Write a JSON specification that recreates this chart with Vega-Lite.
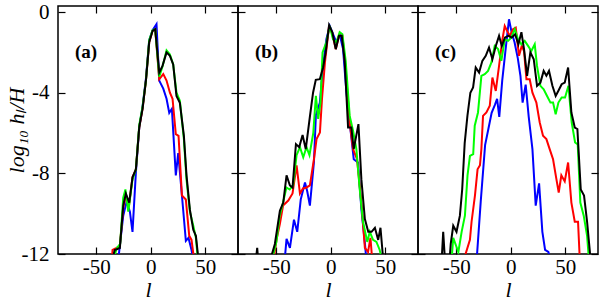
{
"$schema": "https://vega.github.io/schema/vega-lite/v6.json",
"padding": {"left": 4, "top": 0, "right": 4, "bottom": 0},
"config": {
 "view": {"stroke": "black", "strokeWidth": 1.5},
 "font": "Liberation Serif",
 "style": {"guide-label": {"font": "Liberation Serif", "fontSize": 21, "fill": "black"}, "guide-title": {"font": "Liberation Serif", "fontSize": 22, "fontStyle": "italic", "fontWeight": "normal", "fill": "black"}},
 "axis": {"domain": false, "grid": false, "ticks": true, "tickColor": "black", "tickSize": -7, "tickWidth": 1.2, "minExtent": 0, "labelFont": "Liberation Serif", "labelFontSize": 21, "labelColor": "black", "titleFont": "Liberation Serif", "titleFontSize": 22, "titleFontStyle": "italic", "titleFontWeight": "normal", "titleColor": "black"}
},
"datasets": {
"curves": [
{"p":"a","s":"b","l":-29.8,"h":-12.3},{"p":"a","s":"b","l":-25.2,"h":-10.1},{"p":"a","s":"b","l":-22.1,"h":-9.4},{"p":"a","s":"b","l":-19.1,"h":-9.9},{"p":"a","s":"b","l":-16.7,"h":-10.9},{"p":"a","s":"b","l":-13.6,"h":-7.95},{"p":"a","s":"b","l":-10.5,"h":-5.7},{"p":"a","s":"b","l":-7.5,"h":-4.7},{"p":"a","s":"b","l":-4.4,"h":-3.3},{"p":"a","s":"b","l":-1.4,"h":-1.4},{"p":"a","s":"b","l":1.7,"h":-0.9},{"p":"a","s":"b","l":5.3,"h":-0.6},{"p":"a","s":"b","l":7.8,"h":-3.4},{"p":"a","s":"b","l":11.5,"h":-3.8},{"p":"a","s":"b","l":14.5,"h":-4.3},{"p":"a","s":"b","l":17,"h":-5.0},{"p":"a","s":"b","l":19.4,"h":-4.8},{"p":"a","s":"b","l":23,"h":-8.1},{"p":"a","s":"b","l":25.2,"h":-7.0},{"p":"a","s":"b","l":28.6,"h":-9.1},{"p":"a","s":"b","l":32.2,"h":-11.35},{"p":"a","s":"b","l":34.6,"h":-11.2},{"p":"a","s":"b","l":37.4,"h":-11.8},{"p":"a","s":"b","l":39,"h":-12.3},
{"p":"a","s":"r","l":-35.5,"h":-12.2},{"p":"a","s":"r","l":-35,"h":-11.8},{"p":"a","s":"r","l":-31.3,"h":-11.7},{"p":"a","s":"r","l":-28.3,"h":-11.6},{"p":"a","s":"r","l":-25.2,"h":-9.7},{"p":"a","s":"r","l":-22.8,"h":-9.1},{"p":"a","s":"r","l":-19.7,"h":-9.5},{"p":"a","s":"r","l":-16.7,"h":-8.2},{"p":"a","s":"r","l":-13.6,"h":-7.8},{"p":"a","s":"r","l":-10.5,"h":-5.7},{"p":"a","s":"r","l":-7.5,"h":-4.8},{"p":"a","s":"r","l":-4.4,"h":-3.4},{"p":"a","s":"r","l":-1.4,"h":-1.5},{"p":"a","s":"r","l":1.7,"h":-0.93},{"p":"a","s":"r","l":4.1,"h":-0.85},{"p":"a","s":"r","l":7.8,"h":-3.33},{"p":"a","s":"r","l":11.5,"h":-3.08},{"p":"a","s":"r","l":14.5,"h":-3.4},{"p":"a","s":"r","l":17.6,"h":-4.0},{"p":"a","s":"r","l":20,"h":-4.3},{"p":"a","s":"r","l":23,"h":-6.06},{"p":"a","s":"r","l":25.5,"h":-6.14},{"p":"a","s":"r","l":28.6,"h":-9.1},{"p":"a","s":"r","l":32.2,"h":-9.3},{"p":"a","s":"r","l":35.3,"h":-11.1},{"p":"a","s":"r","l":37.4,"h":-11.3},{"p":"a","s":"r","l":39.8,"h":-12.3},
{"p":"a","s":"g","l":-34.5,"h":-12.3},{"p":"a","s":"g","l":-31,"h":-11.7},{"p":"a","s":"g","l":-28,"h":-11.5},{"p":"a","s":"g","l":-25.2,"h":-9.2},{"p":"a","s":"g","l":-23.2,"h":-8.8},{"p":"a","s":"g","l":-20.6,"h":-9.9},{"p":"a","s":"g","l":-16.7,"h":-8.3},{"p":"a","s":"g","l":-13.6,"h":-7.8},{"p":"a","s":"g","l":-10.5,"h":-5.6},{"p":"a","s":"g","l":-7.5,"h":-4.7},{"p":"a","s":"g","l":-4.4,"h":-3.4},{"p":"a","s":"g","l":-1.4,"h":-1.4},{"p":"a","s":"g","l":1.7,"h":-0.9},{"p":"a","s":"g","l":4.1,"h":-0.85},{"p":"a","s":"g","l":7.8,"h":-3.2},{"p":"a","s":"g","l":10.8,"h":-2.7},{"p":"a","s":"g","l":14.5,"h":-1.9},{"p":"a","s":"g","l":17.6,"h":-2.1},{"p":"a","s":"g","l":20.6,"h":-2.6},{"p":"a","s":"g","l":23.6,"h":-4.0},{"p":"a","s":"g","l":26.7,"h":-4.4},{"p":"a","s":"g","l":30.4,"h":-6.3},{"p":"a","s":"g","l":32.8,"h":-8.3},{"p":"a","s":"g","l":35.9,"h":-9.9},{"p":"a","s":"g","l":39,"h":-10.6},{"p":"a","s":"g","l":41.4,"h":-11.2},{"p":"a","s":"g","l":43.3,"h":-12.3},
{"p":"a","s":"k","l":-35.3,"h":-12.3},{"p":"a","s":"k","l":-33,"h":-11.8},{"p":"a","s":"k","l":-28.3,"h":-11.7},{"p":"a","s":"k","l":-25.2,"h":-9.6},{"p":"a","s":"k","l":-22.8,"h":-9.0},{"p":"a","s":"k","l":-19.7,"h":-9.45},{"p":"a","s":"k","l":-16.7,"h":-8.2},{"p":"a","s":"k","l":-13.6,"h":-7.8},{"p":"a","s":"k","l":-10.5,"h":-5.7},{"p":"a","s":"k","l":-7.5,"h":-4.8},{"p":"a","s":"k","l":-4.4,"h":-3.4},{"p":"a","s":"k","l":-1.4,"h":-1.5},{"p":"a","s":"k","l":1.7,"h":-0.93},{"p":"a","s":"k","l":4.1,"h":-0.85},{"p":"a","s":"k","l":7.8,"h":-3.0},{"p":"a","s":"k","l":10.8,"h":-2.67},{"p":"a","s":"k","l":14.5,"h":-2.0},{"p":"a","s":"k","l":17.6,"h":-2.17},{"p":"a","s":"k","l":20.6,"h":-2.6},{"p":"a","s":"k","l":23.6,"h":-4.16},{"p":"a","s":"k","l":26.7,"h":-4.5},{"p":"a","s":"k","l":30.4,"h":-6.14},{"p":"a","s":"k","l":32.8,"h":-8.1},{"p":"a","s":"k","l":35.9,"h":-9.8},{"p":"a","s":"k","l":39,"h":-10.8},{"p":"a","s":"k","l":41.4,"h":-11.1},{"p":"a","s":"k","l":43.8,"h":-12.3},

{"p":"b","s":"b","l":-42.2,"h":-12.3},{"p":"b","s":"b","l":-40.5,"h":-11.25},{"p":"b","s":"b","l":-37.4,"h":-11.7},{"p":"b","s":"b","l":-33.7,"h":-10.3},{"p":"b","s":"b","l":-30.7,"h":-10.9},{"p":"b","s":"b","l":-27.5,"h":-9.3},{"p":"b","s":"b","l":-23.6,"h":-8.45},{"p":"b","s":"b","l":-21.5,"h":-8.9},{"p":"b","s":"b","l":-19.1,"h":-9.6},{"p":"b","s":"b","l":-15.4,"h":-7.45},{"p":"b","s":"b","l":-13.6,"h":-5.1},{"p":"b","s":"b","l":-10,"h":-4.5},{"p":"b","s":"b","l":-7,"h":-2.67},{"p":"b","s":"b","l":-4,"h":-1.35},{"p":"b","s":"b","l":-0.9,"h":-0.69},{"p":"b","s":"b","l":2.1,"h":-1.1},{"p":"b","s":"b","l":5.2,"h":-1.5},{"p":"b","s":"b","l":8.2,"h":-1.1},{"p":"b","s":"b","l":11.3,"h":-1.84},{"p":"b","s":"b","l":14.4,"h":-3.99},{"p":"b","s":"b","l":17.4,"h":-5.48},{"p":"b","s":"b","l":21.1,"h":-7.3},{"p":"b","s":"b","l":25,"h":-7.46},{"p":"b","s":"b","l":28.1,"h":-9.78},{"p":"b","s":"b","l":31.2,"h":-11.4},{"p":"b","s":"b","l":32.7,"h":-12.3},
{"p":"b","s":"r","l":-53,"h":-12.5},{"p":"b","s":"r","l":-49.7,"h":-11.3},{"p":"b","s":"r","l":-46.6,"h":-10.5},{"p":"b","s":"r","l":-43.7,"h":-9.6},{"p":"b","s":"r","l":-38.9,"h":-9.35},{"p":"b","s":"r","l":-35,"h":-9.0},{"p":"b","s":"r","l":-31.3,"h":-7.6},{"p":"b","s":"r","l":-28.2,"h":-9.0},{"p":"b","s":"r","l":-25.4,"h":-8.75},{"p":"b","s":"r","l":-22.2,"h":-8.7},{"p":"b","s":"r","l":-19.1,"h":-8.6},{"p":"b","s":"r","l":-15.4,"h":-7.3},{"p":"b","s":"r","l":-13,"h":-6.3},{"p":"b","s":"r","l":-9.9,"h":-5.97},{"p":"b","s":"r","l":-8,"h":-4.3},{"p":"b","s":"r","l":-5.3,"h":-2.5},{"p":"b","s":"r","l":-1.5,"h":-0.69},{"p":"b","s":"r","l":1.5,"h":-1.1},{"p":"b","s":"r","l":4.6,"h":-1.84},{"p":"b","s":"r","l":7.6,"h":-1.18},{"p":"b","s":"r","l":10.7,"h":-1.18},{"p":"b","s":"r","l":13.7,"h":-2.83},{"p":"b","s":"r","l":17.4,"h":-5.5},{"p":"b","s":"r","l":20.5,"h":-6.8},{"p":"b","s":"r","l":24.1,"h":-7.3},{"p":"b","s":"r","l":28.1,"h":-9.45},{"p":"b","s":"r","l":31.3,"h":-11.7},{"p":"b","s":"r","l":34.2,"h":-11.9},{"p":"b","s":"r","l":36.4,"h":-11.2},{"p":"b","s":"r","l":38.2,"h":-12.4},
{"p":"b","s":"g","l":-55,"h":-12.5},{"p":"b","s":"g","l":-49.8,"h":-11.4},{"p":"b","s":"g","l":-46.8,"h":-10.1},{"p":"b","s":"g","l":-43.7,"h":-9.45},{"p":"b","s":"g","l":-40.6,"h":-8.7},{"p":"b","s":"g","l":-37.6,"h":-8.8},{"p":"b","s":"g","l":-34.5,"h":-8.6},{"p":"b","s":"g","l":-31.3,"h":-7.1},{"p":"b","s":"g","l":-28.2,"h":-6.7},{"p":"b","s":"g","l":-25.2,"h":-7.2},{"p":"b","s":"g","l":-22.2,"h":-6.7},{"p":"b","s":"g","l":-19.5,"h":-7.1},{"p":"b","s":"g","l":-16,"h":-6.0},{"p":"b","s":"g","l":-13.6,"h":-4.15},{"p":"b","s":"g","l":-11.5,"h":-5.3},{"p":"b","s":"g","l":-9.4,"h":-4.5},{"p":"b","s":"g","l":-7.5,"h":-2.0},{"p":"b","s":"g","l":-4,"h":-1.5},{"p":"b","s":"g","l":-0.9,"h":-0.69},{"p":"b","s":"g","l":2.1,"h":-1.35},{"p":"b","s":"g","l":5.2,"h":-1.5},{"p":"b","s":"g","l":8.2,"h":-1.0},{"p":"b","s":"g","l":10.7,"h":-1.1},{"p":"b","s":"g","l":13.7,"h":-2.42},{"p":"b","s":"g","l":17.4,"h":-5.15},{"p":"b","s":"g","l":20.5,"h":-5.9},{"p":"b","s":"g","l":23.5,"h":-6.8},{"p":"b","s":"g","l":26.6,"h":-8.8},{"p":"b","s":"g","l":29.6,"h":-10.4},{"p":"b","s":"g","l":33.5,"h":-11.4},{"p":"b","s":"g","l":35.8,"h":-10.9},{"p":"b","s":"g","l":38.8,"h":-11.3},{"p":"b","s":"g","l":41.9,"h":-11.4},{"p":"b","s":"g","l":44.9,"h":-11.8},{"p":"b","s":"g","l":47.4,"h":-12.4},
{"p":"b","s":"k","l":-70,"h":-13},{"p":"b","s":"k","l":-67.4,"h":-11.7},{"p":"b","s":"k","l":-65.5,"h":-13},{"p":"b","s":"k","l":-57,"h":-12.6},{"p":"b","s":"k","l":-51.2,"h":-11.5},{"p":"b","s":"k","l":-46.6,"h":-9.85},{"p":"b","s":"k","l":-43.5,"h":-9.45},{"p":"b","s":"k","l":-40.5,"h":-8.1},{"p":"b","s":"k","l":-37.4,"h":-8.6},{"p":"b","s":"k","l":-35,"h":-8.7},{"p":"b","s":"k","l":-31.9,"h":-6.55},{"p":"b","s":"k","l":-28.9,"h":-6.7},{"p":"b","s":"k","l":-25.8,"h":-6.1},{"p":"b","s":"k","l":-22.9,"h":-6.8},{"p":"b","s":"k","l":-19.2,"h":-5.23},{"p":"b","s":"k","l":-16.2,"h":-4.0},{"p":"b","s":"k","l":-13.7,"h":-3.36},{"p":"b","s":"k","l":-10,"h":-3.33},{"p":"b","s":"k","l":-7,"h":-2.75},{"p":"b","s":"k","l":-4.6,"h":-2.0},{"p":"b","s":"k","l":-1.5,"h":-0.65},{"p":"b","s":"k","l":1.5,"h":-1.0},{"p":"b","s":"k","l":4.6,"h":-1.84},{"p":"b","s":"k","l":7.6,"h":-1.18},{"p":"b","s":"k","l":10.1,"h":-1.18},{"p":"b","s":"k","l":12.8,"h":-2.42},{"p":"b","s":"k","l":15.9,"h":-5.73},{"p":"b","s":"k","l":18.9,"h":-5.73},{"p":"b","s":"k","l":21.1,"h":-6.8},{"p":"b","s":"k","l":25.4,"h":-5.56},{"p":"b","s":"k","l":28.1,"h":-8.3},{"p":"b","s":"k","l":31.3,"h":-10.27},{"p":"b","s":"k","l":34.4,"h":-10.9},{"p":"b","s":"k","l":37.4,"h":-10.9},{"p":"b","s":"k","l":40.5,"h":-10.7},{"p":"b","s":"k","l":43.5,"h":-11.3},{"p":"b","s":"k","l":45.6,"h":-10.7},{"p":"b","s":"k","l":48.3,"h":-12.4},

{"p":"c","s":"b","l":-31.5,"h":-12.5},{"p":"c","s":"b","l":-27.5,"h":-9.4},{"p":"c","s":"b","l":-23.5,"h":-6.6},{"p":"c","s":"b","l":-20.5,"h":-5.8},{"p":"c","s":"b","l":-17.5,"h":-5.0},{"p":"c","s":"b","l":-14.5,"h":-4.6},{"p":"c","s":"b","l":-12.5,"h":-4.3},{"p":"c","s":"b","l":-10.5,"h":-5.2},{"p":"c","s":"b","l":-7.8,"h":-3.4},{"p":"c","s":"b","l":-5,"h":-2.0},{"p":"c","s":"b","l":-1.6,"h":-0.36},{"p":"c","s":"b","l":0.8,"h":-1.0},{"p":"c","s":"b","l":3.5,"h":-1.5},{"p":"c","s":"b","l":6.5,"h":-2.3},{"p":"c","s":"b","l":8.9,"h":-3.16},{"p":"c","s":"b","l":10.9,"h":-4.49},{"p":"c","s":"b","l":13.7,"h":-3.6},{"p":"c","s":"b","l":16.5,"h":-5.2},{"p":"c","s":"b","l":19.9,"h":-6.8},{"p":"c","s":"b","l":22.9,"h":-9.6},{"p":"c","s":"b","l":26,"h":-8.5},{"p":"c","s":"b","l":29,"h":-10.9},{"p":"c","s":"b","l":31.5,"h":-11.8},{"p":"c","s":"b","l":34.5,"h":-11.9},{"p":"c","s":"b","l":37.6,"h":-12.5},
{"p":"c","s":"r","l":-43,"h":-12.5},{"p":"c","s":"r","l":-41.4,"h":-12},{"p":"c","s":"r","l":-37.4,"h":-11.3},{"p":"c","s":"r","l":-35.9,"h":-10.4},{"p":"c","s":"r","l":-32.8,"h":-9.1},{"p":"c","s":"r","l":-30.4,"h":-7.8},{"p":"c","s":"r","l":-28.2,"h":-7.6},{"p":"c","s":"r","l":-26.9,"h":-6.8},{"p":"c","s":"r","l":-25.4,"h":-5.15},{"p":"c","s":"r","l":-22.3,"h":-4.98},{"p":"c","s":"r","l":-19.2,"h":-4.65},{"p":"c","s":"r","l":-16.8,"h":-3.25},{"p":"c","s":"r","l":-13.7,"h":-3.91},{"p":"c","s":"r","l":-10.7,"h":-2.67},{"p":"c","s":"r","l":-7.6,"h":-1.35},{"p":"c","s":"r","l":-5.5,"h":-0.69},{"p":"c","s":"r","l":-3.4,"h":-0.93},{"p":"c","s":"r","l":-0.9,"h":-1.18},{"p":"c","s":"r","l":2.1,"h":-0.85},{"p":"c","s":"r","l":4.6,"h":-0.77},{"p":"c","s":"r","l":7.6,"h":-2.17},{"p":"c","s":"r","l":10.1,"h":-1.68},{"p":"c","s":"r","l":12.2,"h":-1.93},{"p":"c","s":"r","l":14.4,"h":-3.33},{"p":"c","s":"r","l":17.4,"h":-3.33},{"p":"c","s":"r","l":19.9,"h":-4.0},{"p":"c","s":"r","l":23.5,"h":-4.49},{"p":"c","s":"r","l":26.6,"h":-5.48},{"p":"c","s":"r","l":29.6,"h":-6.14},{"p":"c","s":"r","l":32.7,"h":-6.3},{"p":"c","s":"r","l":35.7,"h":-6.8},{"p":"c","s":"r","l":38.8,"h":-7.3},{"p":"c","s":"r","l":41.9,"h":-8.3},{"p":"c","s":"r","l":44,"h":-8.95},{"p":"c","s":"r","l":46.4,"h":-8.1},{"p":"c","s":"r","l":49.5,"h":-8.4},{"p":"c","s":"r","l":52.6,"h":-7.46},{"p":"c","s":"r","l":55.6,"h":-9.45},{"p":"c","s":"r","l":58.7,"h":-10.4},{"p":"c","s":"r","l":61.7,"h":-10.4},{"p":"c","s":"r","l":63.5,"h":-12.5},
{"p":"c","s":"g","l":-54.5,"h":-12.5},{"p":"c","s":"g","l":-52.7,"h":-11.2},{"p":"c","s":"g","l":-48,"h":-11.9},{"p":"c","s":"g","l":-45,"h":-10.9},{"p":"c","s":"g","l":-42,"h":-10.1},{"p":"c","s":"g","l":-39.6,"h":-8.1},{"p":"c","s":"g","l":-37.4,"h":-7.13},{"p":"c","s":"g","l":-34.4,"h":-7.05},{"p":"c","s":"g","l":-33,"h":-5.64},{"p":"c","s":"g","l":-30,"h":-4.98},{"p":"c","s":"g","l":-26.9,"h":-3.17},{"p":"c","s":"g","l":-23.8,"h":-3.08},{"p":"c","s":"g","l":-20.8,"h":-2.92},{"p":"c","s":"g","l":-17.7,"h":-2.5},{"p":"c","s":"g","l":-14.7,"h":-1.68},{"p":"c","s":"g","l":-11.6,"h":-1.84},{"p":"c","s":"g","l":-8.6,"h":-2.42},{"p":"c","s":"g","l":-5.5,"h":-1.35},{"p":"c","s":"g","l":-2.4,"h":-1.43},{"p":"c","s":"g","l":0.6,"h":-1.26},{"p":"c","s":"g","l":3.7,"h":-0.85},{"p":"c","s":"g","l":6.7,"h":-1.35},{"p":"c","s":"g","l":9.8,"h":-1.6},{"p":"c","s":"g","l":12.8,"h":-1.43},{"p":"c","s":"g","l":15.9,"h":-1.68},{"p":"c","s":"g","l":18.9,"h":-1.93},{"p":"c","s":"g","l":22,"h":-1.6},{"p":"c","s":"g","l":24.1,"h":-2.67},{"p":"c","s":"g","l":27.2,"h":-3.66},{"p":"c","s":"g","l":30.2,"h":-3.83},{"p":"c","s":"g","l":33.3,"h":-4.16},{"p":"c","s":"g","l":36.4,"h":-4.49},{"p":"c","s":"g","l":38.8,"h":-4.49},{"p":"c","s":"g","l":41.2,"h":-5.07},{"p":"c","s":"g","l":43.7,"h":-4.49},{"p":"c","s":"g","l":46.7,"h":-4.24},{"p":"c","s":"g","l":49.8,"h":-4.24},{"p":"c","s":"g","l":52.9,"h":-3.66},{"p":"c","s":"g","l":55.9,"h":-5.48},{"p":"c","s":"g","l":59,"h":-6.47},{"p":"c","s":"g","l":61.4,"h":-6.56},{"p":"c","s":"g","l":63.8,"h":-9.45},{"p":"c","s":"g","l":66.9,"h":-10.1},{"p":"c","s":"g","l":70,"h":-11.1},{"p":"c","s":"g","l":72,"h":-12.5},
{"p":"c","s":"k","l":-64,"h":-13},{"p":"c","s":"k","l":-61.9,"h":-10.9},{"p":"c","s":"k","l":-59.5,"h":-13},{"p":"c","s":"k","l":-57,"h":-13},{"p":"c","s":"k","l":-55,"h":-11.5},{"p":"c","s":"k","l":-52.7,"h":-10.6},{"p":"c","s":"k","l":-49.7,"h":-10.9},{"p":"c","s":"k","l":-46.6,"h":-10.1},{"p":"c","s":"k","l":-44.5,"h":-8.8},{"p":"c","s":"k","l":-42.2,"h":-6.5},{"p":"c","s":"k","l":-39.7,"h":-5.15},{"p":"c","s":"k","l":-37,"h":-4.0},{"p":"c","s":"k","l":-34.5,"h":-3.74},{"p":"c","s":"k","l":-32.1,"h":-2.75},{"p":"c","s":"k","l":-29,"h":-3.0},{"p":"c","s":"k","l":-26,"h":-2.42},{"p":"c","s":"k","l":-22.9,"h":-2.17},{"p":"c","s":"k","l":-19.9,"h":-1.76},{"p":"c","s":"k","l":-16.8,"h":-2.34},{"p":"c","s":"k","l":-13.7,"h":-1.68},{"p":"c","s":"k","l":-10.7,"h":-1.18},{"p":"c","s":"k","l":-8.2,"h":-1.68},{"p":"c","s":"k","l":-5.2,"h":-1.26},{"p":"c","s":"k","l":-2.1,"h":-1.18},{"p":"c","s":"k","l":0.9,"h":-1.26},{"p":"c","s":"k","l":4,"h":-1.1},{"p":"c","s":"k","l":7,"h":-1.6},{"p":"c","s":"k","l":9.8,"h":-1.0},{"p":"c","s":"k","l":12.2,"h":-1.84},{"p":"c","s":"k","l":15,"h":-3.16},{"p":"c","s":"k","l":18,"h":-2.0},{"p":"c","s":"k","l":21.1,"h":-2.34},{"p":"c","s":"k","l":24.1,"h":-3.66},{"p":"c","s":"k","l":27.2,"h":-3.5},{"p":"c","s":"k","l":30.2,"h":-2.92},{"p":"c","s":"k","l":32.7,"h":-3.16},{"p":"c","s":"k","l":35.1,"h":-2.92},{"p":"c","s":"k","l":38.2,"h":-3.66},{"p":"c","s":"k","l":41.2,"h":-4.16},{"p":"c","s":"k","l":43.7,"h":-3.9},{"p":"c","s":"k","l":46.7,"h":-3.58},{"p":"c","s":"k","l":49.5,"h":-3.5},{"p":"c","s":"k","l":52.6,"h":-2.75},{"p":"c","s":"k","l":55.6,"h":-4.98},{"p":"c","s":"k","l":58.7,"h":-5.73},{"p":"c","s":"k","l":61.1,"h":-5.8},{"p":"c","s":"k","l":64.2,"h":-8.8},{"p":"c","s":"k","l":67.2,"h":-9.1},{"p":"c","s":"k","l":70,"h":-10.4},{"p":"c","s":"k","l":72.4,"h":-11.8},{"p":"c","s":"k","l":73.5,"h":-12.5}
],
"labels": [
{"p":"a","l":-69.5,"h":-2.0,"t":"(a)"},{"p":"b","l":-69.5,"h":-2.0,"t":"(b)"},{"p":"c","l":-69.5,"h":-2.0,"t":"(c)"}
]
},
"spacing": 0,
"bounds": "flush",
"hconcat": [
{
 "width": 180, "height": 248,
 "layer": [
  {"data": {"name": "curves"}, "transform": [{"filter": "datum.p == 'a'"}],
   "mark": {"type": "line", "strokeWidth": 2, "clip": true},
   "encoding": {
    "x": {"field": "l", "type": "quantitative", "scale": {"domain": [-85, 80], "nice": false, "zero": false}, "axis": {"values": [-50, 0, 50], "title": "l", "labelExpr": "'' + datum.value", "labelFont": "Liberation Serif", "labelFontSize": 21, "labelPadding": 9, "titleFont": "Liberation Serif", "titleFontSize": 22, "titleBaseline": "alphabetic", "titleY": 42}},
    "y": {"field": "h", "type": "quantitative", "scale": {"domain": [-12, 0.3], "nice": false, "zero": false}, "axis": {"values": [-12, -8, -4, 0], "title": "log₁₀ hₗ/H", "labelExpr": "'' + datum.value", "labelFont": "Liberation Serif", "labelFontSize": 21, "labelPadding": 16, "titleFont": "Liberation Serif", "titleFontSize": 22, "titleBaseline": "middle", "titleX": -42}},
    "color": {"field": "s", "type": "nominal", "scale": {"domain": ["b", "r", "g", "k"], "range": ["#0000ff", "#ff0000", "#00ff00", "#000000"]}, "legend": null}
   }},
  {"data": {"name": "labels"}, "transform": [{"filter": "datum.p == 'a'"}],
   "mark": {"type": "text", "font": "Liberation Serif", "fontSize": 19, "fontWeight": "bold", "align": "left", "baseline": "middle", "color": "black"},
   "encoding": {
    "x": {"field": "l", "type": "quantitative", "axis": {"orient": "top", "values": [-50, 0, 50], "labels": false, "title": null}},
    "y": {"field": "h", "type": "quantitative", "axis": {"orient": "right", "values": [-12, -8, -4, 0], "labels": false, "title": null}},
    "text": {"field": "t"}
   }}
 ],
 "resolve": {"axis": {"x": "independent", "y": "independent"}}
},
{
 "width": 180, "height": 248,
 "layer": [
  {"data": {"name": "curves"}, "transform": [{"filter": "datum.p == 'b'"}],
   "mark": {"type": "line", "strokeWidth": 2, "clip": true},
   "encoding": {
    "x": {"field": "l", "type": "quantitative", "scale": {"domain": [-85, 80], "nice": false, "zero": false}, "axis": {"values": [-50, 0, 50], "title": "l", "labelExpr": "'' + datum.value", "labelFont": "Liberation Serif", "labelFontSize": 21, "labelPadding": 9, "titleFont": "Liberation Serif", "titleFontSize": 22, "titleBaseline": "alphabetic", "titleY": 42}},
    "y": {"field": "h", "type": "quantitative", "scale": {"domain": [-12, 0.3], "nice": false, "zero": false}, "axis": {"values": [-12, -8, -4, 0], "labels": false, "title": null}},
    "color": {"field": "s", "type": "nominal", "scale": {"domain": ["b", "r", "g", "k"], "range": ["#0000ff", "#ff0000", "#00ff00", "#000000"]}, "legend": null}
   }},
  {"data": {"name": "labels"}, "transform": [{"filter": "datum.p == 'b'"}],
   "mark": {"type": "text", "font": "Liberation Serif", "fontSize": 19, "fontWeight": "bold", "align": "left", "baseline": "middle", "color": "black"},
   "encoding": {
    "x": {"field": "l", "type": "quantitative", "axis": {"orient": "top", "values": [-50, 0, 50], "labels": false, "title": null}},
    "y": {"field": "h", "type": "quantitative", "axis": {"orient": "right", "values": [-12, -8, -4, 0], "labels": false, "title": null}},
    "text": {"field": "t"}
   }}
 ],
 "resolve": {"axis": {"x": "independent", "y": "independent"}}
},
{
 "width": 180, "height": 248,
 "layer": [
  {"data": {"name": "curves"}, "transform": [{"filter": "datum.p == 'c'"}],
   "mark": {"type": "line", "strokeWidth": 2, "clip": true},
   "encoding": {
    "x": {"field": "l", "type": "quantitative", "scale": {"domain": [-85, 80], "nice": false, "zero": false}, "axis": {"values": [-50, 0, 50], "title": "l", "labelExpr": "'' + datum.value", "labelFont": "Liberation Serif", "labelFontSize": 21, "labelPadding": 9, "titleFont": "Liberation Serif", "titleFontSize": 22, "titleBaseline": "alphabetic", "titleY": 42}},
    "y": {"field": "h", "type": "quantitative", "scale": {"domain": [-12, 0.3], "nice": false, "zero": false}, "axis": {"values": [-12, -8, -4, 0], "labels": false, "title": null}},
    "color": {"field": "s", "type": "nominal", "scale": {"domain": ["b", "r", "g", "k"], "range": ["#0000ff", "#ff0000", "#00ff00", "#000000"]}, "legend": null}
   }},
  {"data": {"name": "labels"}, "transform": [{"filter": "datum.p == 'c'"}],
   "mark": {"type": "text", "font": "Liberation Serif", "fontSize": 19, "fontWeight": "bold", "align": "left", "baseline": "middle", "color": "black"},
   "encoding": {
    "x": {"field": "l", "type": "quantitative", "axis": {"orient": "top", "values": [-50, 0, 50], "labels": false, "title": null}},
    "y": {"field": "h", "type": "quantitative", "axis": {"orient": "right", "values": [-12, -8, -4, 0], "labels": false, "title": null}},
    "text": {"field": "t"}
   }}
 ],
 "resolve": {"axis": {"x": "independent", "y": "independent"}}
}
]
}
